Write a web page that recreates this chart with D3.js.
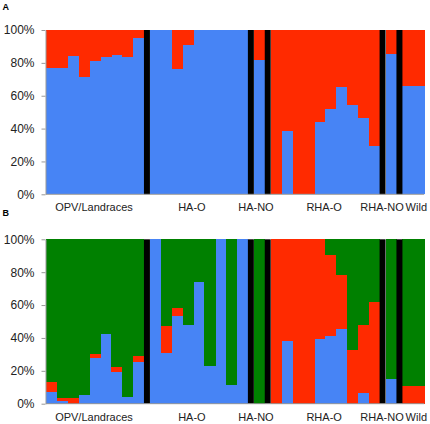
<!DOCTYPE html>
<html><head><meta charset="utf-8">
<script src="https://cdn.jsdelivr.net/npm/d3@7"></script>
<style>body{margin:0;background:#fff}svg{display:block}</style>
</head><body>
<svg id="c" width="430" height="424"></svg>
<script>
const groups = ["OPV/Landraces","HA-O","HA-NO","RHA-O","RHA-NO","Wild"];
const groupSizes = [9,9,1,10,1,2];
const yTicks = [0,20,40,60,80,100];

// Panel A (K=2): blue, red (% of each accession)
const blueA = [76.7,76.7,84.2,71.4,80.9,83.4,84.8,83.4,95.0,
  100,100,76.3,91.0,100,100,100,100,100,
  82.0,
  0,38.5,0,0,43.8,51.9,65.1,54.4,46.6,29.6,
  85.2,
  65.9,65.9];
const redA = [23.3,23.3,15.8,28.6,19.1,16.6,15.2,16.6,5.0,
  0,0,23.7,9.0,0,0,0,0,0,
  18.0,
  100,61.5,100,100,56.2,48.1,34.9,45.6,53.4,70.4,
  14.8,
  34.1,34.1];

// Panel B (K=3): blue, red, green
const blueB = [7.1,1.6,0,5.3,28.0,42.6,19.5,4.3,25.2,
  100,31.0,53.3,48.1,74.0,23.1,100,11.4,100,
  0,
  0,38.0,0,0,39.6,41.2,45.2,0,6.5,0,
  15.2,
  0,0];
const redB = [6.1,2.1,3.7,0,2.2,0,2.6,0,4.0,
  0,16.3,4.9,0,0,0,0,0,0,
  0,
  100,62.0,100,100,60.4,49.4,33.3,32.5,41.6,61.9,
  0,
  10.8,10.8];
const greenB = [86.8,96.3,96.3,94.7,69.8,57.4,77.9,95.7,70.8,
  0,52.7,41.8,51.9,26.0,76.9,0,88.6,0,
  100,
  0,0,0,0,0,9.4,21.5,67.5,51.9,38.1,
  84.8,
  89.2,89.2];

const COL = {blue:"#4784f5", red:"#ff2a00", green:"#008000"};
const DIV = 0.55; // divider width in bar units

// layout in bar units
const bars = [], dividers = [], groupSpan = [];
let u = 0, idx = 0;
groupSizes.forEach((n, g) => {
  const s = u;
  for (let i = 0; i < n; i++) { bars.push({i: idx++, g, u0: u, u1: u + 1}); u += 1; }
  groupSpan.push([s, u]);
  if (g < groupSizes.length - 1) { dividers.push({u0: u, u1: u + DIV}); u += DIV; }
});
const total = u;
const x = d3.scaleLinear().domain([0, total]).range([46, 424.2]);

const svg = d3.select("#c");
const font = "Liberation Sans, Arial, sans-serif";
const labelNudge = [-1, -7, -3.4, -1, -9, 3];

function panel(top, bottom, series, letter, letterY, labelY) {
  const y = d3.scaleLinear().domain([0, 100]).range([bottom, top]);
  const gp = svg.append("g");
  series.forEach(s => {
    gp.selectAll(null).data(bars).enter().append("rect")
      .attr("x", d => x(d.u0)).attr("width", d => x(d.u1) - x(d.u0) + 0.3)
      .attr("y", d => y(s.base[d.i] + s.vals[d.i]))
      .attr("height", d => y(s.base[d.i]) - y(s.base[d.i] + s.vals[d.i]))
      .attr("fill", s.color).attr("shape-rendering", "crispEdges");
  });
  gp.selectAll(null).data(dividers).enter().append("rect")
    .attr("x", d => x(d.u0)).attr("width", d => x(d.u1) - x(d.u0))
    .attr("y", y(100)).attr("height", y(0) - y(100)).attr("fill", "#000");
  // baseline
  gp.append("line").attr("x1", x(0)).attr("x2", x(total)).attr("y1", y(0)).attr("y2", y(0))
    .attr("stroke", "#999").attr("stroke-width", 1);
  const ax = gp.append("g").attr("transform", `translate(${x(0) - 0.5},0)`)
    .call(d3.axisLeft(y).tickValues(yTicks).tickFormat(d => d + "%").tickSizeInner(4).tickSizeOuter(0).tickPadding(7));
  ax.select(".domain").attr("stroke", "#999");
  ax.selectAll(".tick line").attr("stroke", "#999");
  ax.selectAll("text").attr("font-family", font).attr("font-size", 12).attr("fill", "#222");
  gp.selectAll(null).data(groups).enter().append("text")
    .attr("x", (d, g) => (x(groupSpan[g][0]) + x(groupSpan[g][1])) / 2 + labelNudge[g])
    .attr("y", labelY).attr("text-anchor", "middle")
    .attr("font-family", font).attr("font-size", 11).attr("fill", "#222").text(d => d);
  svg.append("text").attr("x", 2.5).attr("y", letterY).text(letter)
    .attr("font-family", font).attr("font-size", 9).attr("font-weight", "bold").attr("fill", "#000");
}

const zeros = blueA.map(() => 0);
const redBaseB = blueB.map((b) => b);
const greenBaseB = blueB.map((b, i) => b + redB[i]);
panel(30, 194.3, [
  {vals: blueA, base: zeros, color: COL.blue},
  {vals: redA, base: blueA, color: COL.red}
], "A", 10, 210.7);
panel(239.3, 403.7, [
  {vals: blueB, base: zeros, color: COL.blue},
  {vals: redB, base: redBaseB, color: COL.red},
  {vals: greenB, base: greenBaseB, color: COL.green}
], "B", 216.3, 421.3);
</script>
</body></html>
